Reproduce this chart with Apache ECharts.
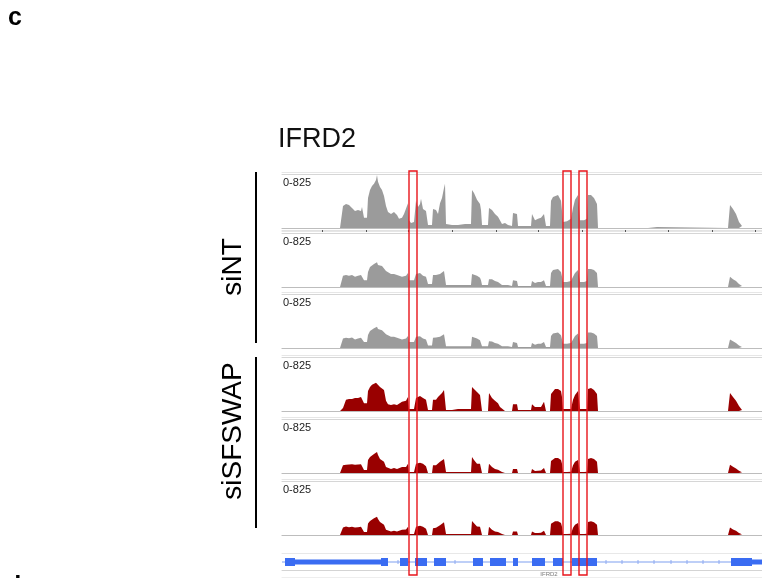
<!DOCTYPE html>
<html>
<head>
<meta charset="utf-8">
<script src="https://cdn.jsdelivr.net/npm/echarts@6/dist/echarts.min.js"></script>
<style>
  html, body { margin: 0; padding: 0; background: #ffffff; }
  #chart { width: 762px; height: 578px; }
</style>
</head>
<body>
<div id="chart"></div>
<script>
// ---- coverage data: positions are bins of the 480-bin browser window ----
const binPos = [58, 60, 61, 64, 67, 70, 73, 76, 79, 80, 82, 85, 86, 88, 90, 92, 94, 95, 96, 98,
  100, 102, 104, 106, 109, 112, 115, 117, 120, 122, 124, 126, 127, 129, 132, 134, 136, 138, 139, 141,
  144, 146, 150, 151, 154, 156, 158, 160, 162, 163, 164, 170, 176, 183, 189, 190, 192, 195, 198, 199,
  200, 206, 207, 210, 213, 216, 218, 220, 223, 226, 230, 231, 235, 236, 243, 249, 250, 253, 256, 259,
  262, 264, 268, 269, 271, 273, 276, 279, 280, 281, 285, 289, 291, 293, 296, 298, 302, 305, 306, 309,
  312, 315, 316, 366, 368, 375, 377, 446, 448, 451, 454, 457, 460, 462];

const siNT_rep1 = [0, 0, 335, 365, 350, 305, 260, 275, 260, 320, 155, 155, 460, 580, 640, 675, 735, 810, 705, 625,
  580, 490, 335, 245, 215, 245, 200, 140, 155, 215, 230, 380, 120, 75, 90, 415, 320, 365, 445, 290,
  260, 45, 45, 290, 275, 215, 380, 460, 610, 675, 60, 45, 45, 60, 60, 580, 535, 430, 365, 275,
  45, 45, 305, 275, 215, 170, 155, 60, 75, 45, 30, 230, 215, 30, 30, 30, 215, 120, 140, 155,
  215, 30, 30, 415, 475, 505, 505, 415, 260, 90, 105, 140, 305, 430, 505, 120, 120, 140, 505, 505,
  460, 365, 0, 0, 15, 15, 0, 0, 350, 290, 215, 90, 30, 0];

const siNT_rep2 = [0, 0, 170, 185, 170, 185, 155, 170, 185, 200, 105, 105, 230, 305, 335, 350, 365, 380, 335, 335,
  320, 290, 245, 215, 200, 200, 185, 155, 155, 155, 170, 215, 105, 105, 105, 200, 215, 215, 215, 170,
  155, 45, 45, 185, 185, 170, 200, 215, 245, 260, 30, 30, 30, 30, 30, 200, 185, 170, 140, 105,
  30, 30, 120, 120, 90, 75, 75, 30, 30, 30, 15, 105, 90, 15, 15, 15, 90, 60, 75, 75,
  105, 15, 15, 215, 260, 275, 275, 230, 155, 75, 75, 90, 155, 215, 260, 75, 75, 90, 275, 275,
  260, 215, 0, 0, 0, 0, 0, 0, 155, 120, 90, 45, 15, 0];

const siNT_rep3 = [0, 0, 145, 155, 150, 160, 130, 145, 155, 170, 90, 90, 200, 260, 290, 300, 310, 325, 290, 280,
  270, 245, 210, 185, 170, 170, 155, 130, 130, 135, 145, 185, 90, 90, 90, 170, 185, 180, 185, 145,
  130, 40, 40, 155, 160, 145, 170, 185, 210, 225, 25, 25, 25, 25, 25, 170, 160, 145, 120, 90,
  25, 25, 105, 100, 75, 65, 65, 25, 25, 25, 15, 90, 75, 15, 15, 15, 75, 50, 65, 65,
  90, 15, 15, 185, 220, 235, 235, 195, 130, 65, 65, 75, 130, 185, 220, 65, 65, 75, 235, 235,
  220, 185, 0, 0, 0, 0, 0, 0, 130, 105, 75, 40, 15, 0];

const siSFSWAP_rep1 = [0, 0, 45, 170, 185, 185, 200, 200, 215, 215, 120, 120, 305, 365, 400, 415, 430, 445, 415, 365,
  335, 320, 155, 105, 90, 105, 90, 75, 140, 140, 155, 215, 30, 30, 30, 200, 200, 230, 245, 200,
  170, 15, 15, 170, 170, 215, 245, 275, 320, 350, 15, 15, 30, 30, 30, 365, 335, 290, 245, 245,
  0, 0, 275, 200, 155, 120, 60, 45, 0, 0, 0, 105, 105, 15, 15, 15, 105, 60, 60, 60,
  140, 0, 0, 260, 290, 335, 335, 305, 215, 30, 30, 30, 170, 245, 305, 30, 30, 30, 335, 350,
  320, 260, 0, 0, 0, 0, 0, 0, 275, 215, 155, 75, 15, 0];

const siSFSWAP_rep2 = [0, 0, 120, 125, 130, 135, 125, 130, 135, 140, 45, 45, 200, 245, 275, 290, 305, 320, 275, 215,
  200, 170, 90, 60, 60, 75, 60, 45, 90, 90, 90, 140, 15, 15, 15, 140, 140, 155, 170, 140,
  105, 0, 0, 120, 120, 140, 170, 185, 215, 245, 15, 15, 15, 15, 15, 245, 200, 140, 140, 135,
  0, 0, 140, 90, 60, 50, 45, 15, 0, 0, 0, 60, 60, 0, 0, 0, 60, 30, 35, 40,
  75, 0, 0, 185, 215, 230, 230, 200, 140, 15, 15, 20, 120, 170, 200, 15, 15, 20, 215, 230,
  215, 170, 0, 0, 0, 0, 0, 0, 125, 95, 70, 35, 10, 0];

const siSFSWAP_rep3 = [0, 0, 115, 130, 120, 125, 115, 120, 125, 130, 45, 45, 175, 215, 240, 255, 265, 280, 245, 200,
  185, 155, 80, 55, 55, 65, 55, 45, 80, 80, 85, 125, 15, 15, 15, 125, 125, 140, 150, 125,
  95, 0, 0, 105, 110, 125, 150, 170, 195, 215, 15, 15, 15, 15, 15, 215, 180, 130, 125, 120,
  0, 0, 125, 80, 55, 45, 40, 15, 0, 0, 0, 55, 55, 0, 0, 0, 55, 30, 30, 35,
  65, 0, 0, 170, 195, 210, 210, 185, 125, 15, 15, 20, 110, 155, 185, 15, 15, 20, 200, 210,
  195, 155, 0, 0, 0, 0, 0, 0, 115, 85, 65, 30, 10, 0];

const trackValues = [siNT_rep1, siNT_rep2, siNT_rep3, siSFSWAP_rep1, siSFSWAP_rep2, siSFSWAP_rep3];
const dataRangeMax = 825;
const rangeLabel = '0-825';

// gene model of IFRD2: [start bin, end bin, block type]
const geneName = 'IFRD2';
const geneBlocks = [[3, 13, 'exon'], [13, 100, 'thick'], [99, 106, 'exon'], [118, 126, 'exon'],
  [133, 145, 'exon'], [152, 164, 'exon'], [191, 201, 'exon'], [208, 224, 'exon'], [231, 236, 'exon'],
  [250, 263, 'exon'], [271, 281, 'exon'], [290, 315, 'exon'], [449, 470, 'exon'], [470, 480, 'thick']];
const geneSpan = [0, 480];
const strandTicks = [116, 173, 324, 340, 356, 372, 389, 405, 421, 437];

// highlighted splice regions
const highlights = [[127, 135], [281, 289], [297, 305]];

// ruler marks under the first track
const rulerTicks = [40, 84, 126, 170, 214, 256, 300, 343, 386, 430, 473];

const groupLabels = ['siNT', 'siSFSWAP'];
const panelLetter = 'c';
const nextPanelLetter = 'd';

// ---- layout ----
const W = 762, H = 578;
const plotLeft = 282, plotWidth = 480;
const trackTops = [174, 233, 294, 357, 419, 481];
const trackH = 54;
const colors = ['#9b9b9b', '#9b9b9b', '#9b9b9b', '#990000', '#990000', '#990000'];
const geneTop = 554, geneH = 16;
const fontFam = '"Liberation Sans", Arial, Helvetica, sans-serif';

const grids = [], xAxes = [], yAxes = [], series = [];

function addAxis(gi, opts) {
  xAxes.push(Object.assign({
    type: 'value', gridIndex: gi, min: 0, max: 480,
    axisLabel: { show: false }, axisTick: { show: false }, splitLine: { show: false }
  }, opts));
  return xAxes.length - 1;
}

trackTops.forEach((top, i) => {
  grids.push({ left: plotLeft, width: plotWidth, top: top, height: trackH });
  const xi = addAxis(i, { position: 'bottom', z: 5, axisLine: { lineStyle: { color: '#bdbdbd', width: 1.2 } } });
  addAxis(i, { position: 'top', axisLine: { lineStyle: { color: '#d6d6d6', width: 1 } } });
  addAxis(i, { position: 'top', offset: 2, axisLine: { lineStyle: { color: '#e6e6e6', width: 1 } } });
  if (i === 0) {
    addAxis(i, {
      position: 'bottom', offset: 2,
      axisLine: { lineStyle: { color: '#e2e2e2', width: 1 } },
      axisTick: { show: true, inside: false, length: 2, customValues: rulerTicks, lineStyle: { color: '#555', width: 1 } }
    });
  }
  yAxes.push({ type: 'value', gridIndex: i, min: 0, max: dataRangeMax, show: false });
  series.push({
    type: 'line', xAxisIndex: xi, yAxisIndex: i,
    data: binPos.map((p, k) => [p, trackValues[i][k]]),
    showSymbol: false, symbol: 'none', silent: true,
    lineStyle: { width: 0, color: colors[i] },
    areaStyle: { color: colors[i], opacity: 1 }
  });
});

// gene track
const gGrid = grids.length;
grids.push({ left: plotLeft, width: plotWidth, top: geneTop, height: geneH });
const gX = addAxis(gGrid, { position: 'top', axisLine: { lineStyle: { color: '#d4d4d4', width: 1 } } });
addAxis(gGrid, { position: 'top', offset: 1, axisLine: { lineStyle: { color: '#e8e8e8', width: 1 } } });
addAxis(gGrid, { position: 'bottom', offset: 7, axisLine: { lineStyle: { color: '#eeeeee', width: 1 } } });
yAxes.push({ type: 'value', gridIndex: gGrid, min: 0, max: 2, show: false });

series.push({
  type: 'line', xAxisIndex: gX, yAxisIndex: gGrid, silent: true, symbol: 'none', z: 1,
  data: [[geneSpan[0], 1], [geneSpan[1], 1]],
  lineStyle: { color: '#a9bff5', width: 1.6 }
});
series.push({
  type: 'custom', xAxisIndex: gX, yAxisIndex: gGrid, silent: true, z: 2,
  data: strandTicks.map(t => [t]),
  renderItem: function (params, api) {
    const p = api.coord([api.value(0), 1]);
    return { type: 'line', shape: { x1: p[0], y1: p[1] - 2, x2: p[0], y2: p[1] + 2 },
      style: { stroke: '#8eaaf2', lineWidth: 1 } };
  }
});
series.push({
  type: 'custom', xAxisIndex: gX, yAxisIndex: gGrid, silent: true, z: 3,
  data: geneBlocks.map(b => [b[0], b[1], b[2] === 'exon' ? 1 : 0]),
  renderItem: function (params, api) {
    const a = api.coord([api.value(0), 1]);
    const b = api.coord([api.value(1), 1]);
    const h = api.value(2) === 1 ? 8 : 5;
    return { type: 'rect', shape: { x: a[0], y: a[1] - h / 2, width: b[0] - a[0], height: h },
      style: { fill: '#3a6cf2' } };
  }
});
series.push({
  type: 'scatter', xAxisIndex: gX, yAxisIndex: gGrid, silent: true,
  data: [[(geneBlocks[10][0] + geneBlocks[9][1]) / 2, 0]], symbolSize: 0,
  label: { show: true, formatter: geneName, position: 'bottom', distance: 1,
    fontSize: 6, color: '#555', fontFamily: fontFam }
});

// overlay for highlight boxes
const oGrid = grids.length;
grids.push({ left: plotLeft, width: plotWidth, top: 171, height: 404 });
const oX = addAxis(oGrid, { show: false });
yAxes.push({ type: 'value', gridIndex: oGrid, min: 0, max: 1, show: false });
series.push({
  type: 'custom', xAxisIndex: oX, yAxisIndex: yAxes.length - 1, silent: true, z: 10,
  data: highlights,
  renderItem: function (params, api) {
    const a = api.coord([api.value(0), 1]);
    const b = api.coord([api.value(1), 0]);
    return { type: 'rect', shape: { x: a[0], y: a[1], width: b[0] - a[0], height: b[1] - a[1] },
      style: { fill: 'none', stroke: '#e8151b', lineWidth: 1.4 } };
  }
});

// text and group bars
const graphic = [
  { type: 'text', left: 8, top: 6, style: { text: panelLetter, font: 'bold 25px ' + fontFam, fill: '#000' } },
  { type: 'text', left: 278, top: 126, style: { text: geneName, font: '27px ' + fontFam, fill: '#111' } },
  { type: 'text', left: 6, top: 575, style: { text: nextPanelLetter, font: 'bold 25px ' + fontFam, fill: '#000' } }
];
trackTops.forEach(top => {
  graphic.push({ type: 'text', x: plotLeft + 1, y: top + 3,
    style: { text: rangeLabel, font: '11px ' + fontFam, fill: '#222' } });
});
const groupSpans = [[172, 343], [357, 528]];
const groupLabelCenters = [267, 431];
groupSpans.forEach((s, i) => {
  graphic.push({ type: 'line', shape: { x1: 256, y1: s[0], x2: 256, y2: s[1] },
    style: { stroke: '#000', lineWidth: 2 } });
  graphic.push({ type: 'text', x: 233, y: groupLabelCenters[i], rotation: Math.PI / 2,
    style: { text: groupLabels[i], font: '28px ' + fontFam, fill: '#000',
      textAlign: 'center', textVerticalAlign: 'middle' } });
});

const chart = echarts.init(document.getElementById('chart'), null, { renderer: 'canvas', width: W, height: H });
chart.setOption({
  animation: false,
  backgroundColor: '#ffffff',
  grid: grids, xAxis: xAxes, yAxis: yAxes, series: series, graphic: graphic
});
</script>
</body>
</html>
